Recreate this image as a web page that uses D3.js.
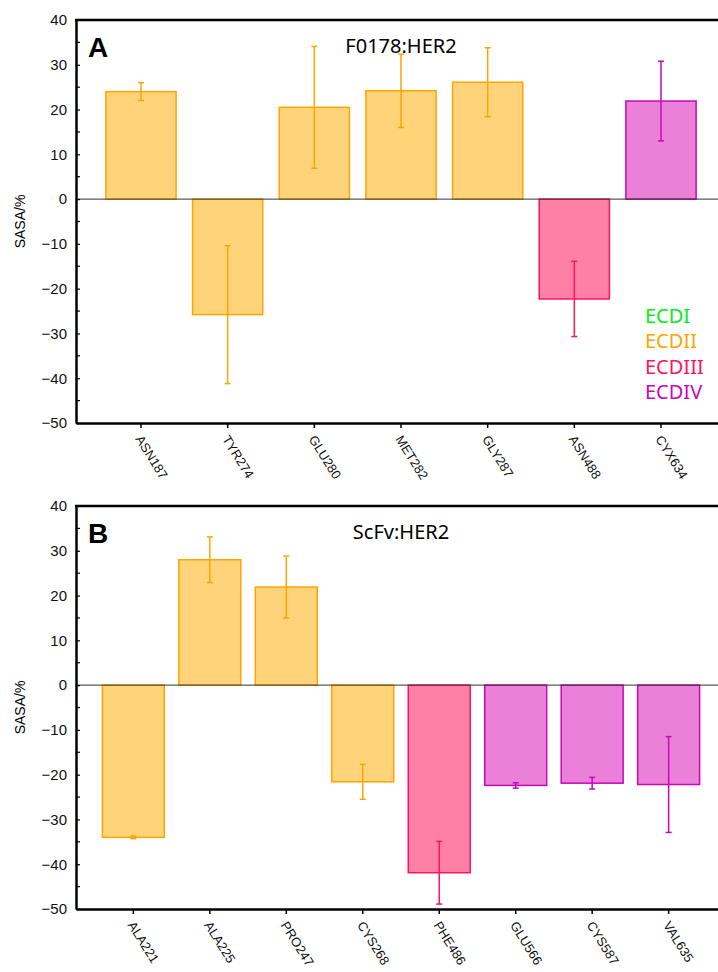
<!DOCTYPE html>
<html>
<head>
<meta charset="utf-8">
<script src="https://cdn.jsdelivr.net/npm/d3@7"></script>
<style>
  body { margin: 0; background: #fff; }
  svg { display: block; }
  .tick text { font-family: "Liberation Sans", Arial, sans-serif; fill: #111; }
</style>
</head>
<body>
<svg></svg>
<script>
const width = 718,
  height = 972;

// Panel A: F0178:HER2
const residuesA = ["ASN187", "TYR274", "GLU280", "MET282", "GLY287", "ASN488", "CYX634"];
const sasaA = [24.0, -25.8, 20.5, 24.2, 26.1, -22.3, 21.9];
const errA = [2.0, 15.4, 13.6, 8.2, 7.7, 8.4, 8.9];
const domainA = ["ECDII", "ECDII", "ECDII", "ECDII", "ECDII", "ECDIII", "ECDIV"];

// Panel B: ScFv:HER2
const residuesB = ["ALA221", "ALA225", "PRO247", "CYS268", "PHE486", "GLU566", "CYS587", "VAL635"];
const sasaB = [-34.0, 28.0, 21.9, -21.6, -41.9, -22.4, -21.9, -22.2];
const errB = [0.3, 5.1, 6.9, 3.9, 7.0, 0.6, 1.3, 10.7];
const domainB = ["ECDII", "ECDII", "ECDII", "ECDII", "ECDIII", "ECDIV", "ECDIV", "ECDIV"];

const yTicks = [40, 30, 20, 10, 0, -10, -20, -30, -40, -50];
const legendNames = ["ECDI", "ECDII", "ECDIII", "ECDIV"];

// colours per HER2 extracellular domain
const strokeColor = d3.scaleOrdinal()
  .domain(legendNames)
  .range(["#00ee22", "#ffa500", "#ff1458", "#c808b8"]);
const fillColor = d3.scaleOrdinal()
  .domain(legendNames)
  .range(["#80f090", "#ffd37a", "#ff80a6", "#ea80d8"]);

const svg = d3.select("svg")
  .attr("width", width)
  .attr("height", height);

function drawPanel(opts) {
  const left = 76, right = 726;
  const x = d3.scaleBand()
    .domain(opts.residues)
    .range([left, right])
    .paddingInner(0.19)
    .paddingOuter(0.345);
  const y = d3.scaleLinear()
    .domain([-50, 40])
    .range([opts.bottom, opts.top]);

  const g = svg.append("g");
  const rows = opts.residues.map((r, i) => ({
    name: r, v: opts.sasa[i], e: opts.err[i], dom: opts.domain[i]
  }));

  // bars
  g.selectAll("rect.bar")
    .data(rows)
    .enter()
    .append("rect")
    .attr("class", "bar")
    .attr("x", d => x(d.name))
    .attr("width", x.bandwidth())
    .attr("y", d => y(Math.max(0, d.v)))
    .attr("height", d => Math.abs(y(d.v) - y(0)))
    .attr("fill", d => fillColor(d.dom))
    .attr("stroke", d => strokeColor(d.dom))
    .attr("stroke-width", 1.5);

  // error bars
  const eb = g.selectAll("g.err")
    .data(rows)
    .enter()
    .append("g")
    .attr("class", "err")
    .attr("stroke", d => strokeColor(d.dom))
    .attr("stroke-width", 1.5);
  eb.append("line")
    .attr("x1", d => x(d.name) + x.bandwidth() / 2)
    .attr("x2", d => x(d.name) + x.bandwidth() / 2)
    .attr("y1", d => y(d.v + d.e))
    .attr("y2", d => y(d.v - d.e));
  [1, -1].forEach(s => {
    eb.append("line")
      .attr("x1", d => x(d.name) + x.bandwidth() / 2 - 3)
      .attr("x2", d => x(d.name) + x.bandwidth() / 2 + 3)
      .attr("y1", d => y(d.v + s * d.e))
      .attr("y2", d => y(d.v + s * d.e));
  });

  // zero line
  g.append("line")
    .attr("x1", left).attr("x2", width)
    .attr("y1", y(0)).attr("y2", y(0))
    .attr("stroke", "#333")
    .attr("stroke-width", 1);

  // top frame
  g.append("line")
    .attr("x1", left - 1).attr("x2", width)
    .attr("y1", opts.top).attr("y2", opts.top)
    .attr("stroke", "#000")
    .attr("stroke-width", 2.5);

  // y axis, ticks pointing inward
  const yAxis = g.append("g")
    .attr("transform", "translate(" + left + ",0)")
    .call(d3.axisLeft(y).tickValues(yTicks).tickSizeInner(-4).tickSizeOuter(0).tickPadding(9));
  yAxis.select(".domain").attr("stroke-width", 2.5);
  yAxis.selectAll(".tick line").attr("stroke-width", 1.2);
  yAxis.selectAll(".tick text").style("font-size", "15px");

  // minor ticks
  g.selectAll("line.minor")
    .data(d3.range(-45, 40, 10))
    .enter()
    .append("line")
    .attr("class", "minor")
    .attr("x1", left).attr("x2", left + 4)
    .attr("y1", d => y(d)).attr("y2", d => y(d))
    .attr("stroke", "#000")
    .attr("stroke-width", 1.2);

  // x axis
  const xAxis = g.append("g")
    .attr("transform", "translate(0," + opts.bottom + ")")
    .call(d3.axisBottom(x).tickSizeInner(5).tickSizeOuter(0).tickPadding(0));
  xAxis.select(".domain").attr("stroke-width", 2.5);
  xAxis.selectAll(".tick line").attr("stroke-width", 1.5);
  xAxis.selectAll(".tick text")
    .attr("text-anchor", "start")
    .attr("y", 0)
    .attr("dy", 0)
    .attr("transform", "translate(-6,16) rotate(58)")
    .style("font-size", "13px");

  // y label
  g.append("text")
    .attr("transform", "translate(25," + (opts.top + opts.bottom) / 2 + ") rotate(-90)")
    .attr("text-anchor", "middle")
    .style("font-family", "'Liberation Sans', Arial, sans-serif")
    .style("font-size", "14px")
    .text("SASA/%");

  // panel letter
  g.append("text")
    .attr("x", 88)
    .attr("y", opts.top + 37)
    .style("font-family", "'Liberation Sans', Arial, sans-serif")
    .style("font-weight", "bold")
    .style("font-size", "28px")
    .text(opts.letter);

  // panel title
  g.append("text")
    .attr("x", (left + right) / 2)
    .attr("y", opts.top + 33)
    .attr("text-anchor", "middle")
    .style("font-family", "'Noto Sans', sans-serif")
    .style("font-size", "20px")
    .text(opts.title);

  return { x, y };
}

drawPanel({
  residues: residuesA, sasa: sasaA, err: errA, domain: domainA,
  top: 20, bottom: 423, letter: "A", title: "F0178:HER2"
});

drawPanel({
  residues: residuesB, sasa: sasaB, err: errB, domain: domainB,
  top: 506, bottom: 909, letter: "B", title: "ScFv:HER2"
});

// legend (text only, coloured by domain)
svg.append("g")
  .selectAll("text")
  .data(legendNames)
  .enter()
  .append("text")
  .attr("x", 645)
  .attr("y", (d, i) => 323 + i * 25.3)
  .attr("fill", d => strokeColor(d))
  .style("font-family", "'Noto Sans', sans-serif")
  .style("font-size", "20px")
  .text(d => d);
</script>
</body>
</html>
